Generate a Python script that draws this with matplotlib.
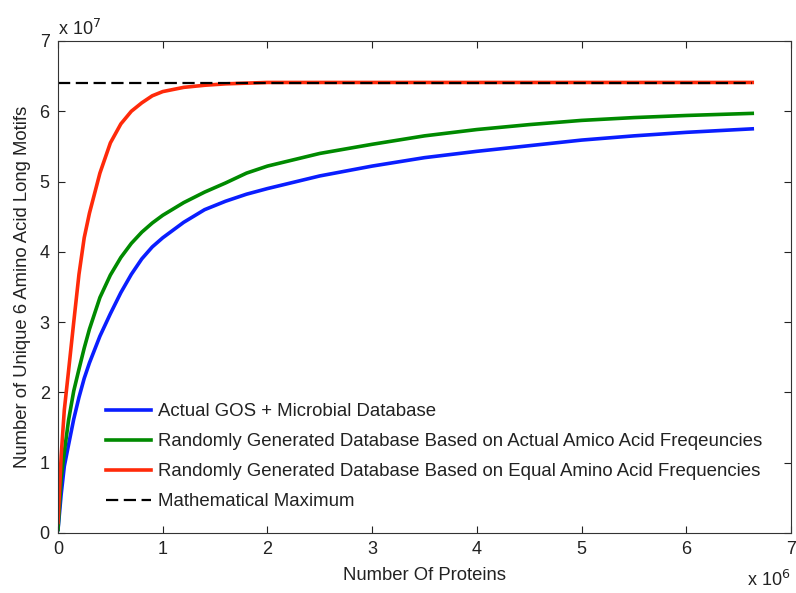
import matplotlib.pyplot as plt

plt.rcParams['font.family'] = ['Liberation Sans', 'DejaVu Sans']

# number of proteins (x 10^6)
proteins = [0, 0.03, 0.06, 0.1, 0.15, 0.2, 0.25, 0.3, 0.4, 0.5, 0.6, 0.7, 0.8, 0.9, 1.0,
            1.2, 1.4, 1.6, 1.8, 2.0, 2.5, 3.0, 3.5, 4.0, 4.5, 5.0, 5.5, 6.0, 6.63]

# unique 6 amino acid long motifs (x 10^7)
actual_gos = [0.05, 0.55, 0.95, 1.25, 1.62, 1.93, 2.2, 2.42, 2.8, 3.12, 3.42, 3.68, 3.9, 4.07, 4.2,
              4.42, 4.6, 4.72, 4.82, 4.9, 5.08, 5.22, 5.34, 5.43, 5.51, 5.59, 5.65, 5.7, 5.75]
random_actual = [0.05, 0.78, 1.15, 1.6, 2.02, 2.33, 2.63, 2.9, 3.35, 3.67, 3.92, 4.12, 4.28, 4.41, 4.52,
                 4.7, 4.85, 4.98, 5.12, 5.22, 5.4, 5.53, 5.65, 5.74, 5.81, 5.87, 5.91, 5.94, 5.97]
random_equal = [0.15, 1.1, 1.75, 2.3, 3.0, 3.68, 4.2, 4.55, 5.12, 5.55, 5.82, 6.0, 6.12, 6.22, 6.28,
                6.34, 6.37, 6.39, 6.40, 6.41, 6.41, 6.41, 6.41, 6.41, 6.41, 6.41, 6.41, 6.41, 6.41]
max_x = [0, 6.63]
max_y = [6.4, 6.4]

labels = ['Actual GOS + Microbial Database',
          'Randomly Generated Database Based on Actual Amico Acid Freqeuncies',
          'Randomly Generated Database Based on Equal Amino Acid Frequencies',
          'Mathematical Maximum']

fig = plt.figure(figsize=(7.96, 5.93), dpi=100)
ax = fig.add_axes([0.0729, 0.1012, 0.9208, 0.8297])

ax.plot(proteins, actual_gos, color='#0a1eff', lw=2.6, label=labels[0])
ax.plot(proteins, random_actual, color='#008a00', lw=2.6, label=labels[1])
ax.plot(proteins, random_equal, color='#ff2a0a', lw=2.6, label=labels[2])
ax.plot(max_x, max_y, color='black', lw=1.6, dashes=(5.5, 2.5), label=labels[3])

ax.set_xlim(0, 7)
ax.set_ylim(0, 7)
ax.set_xticks(range(8))
ax.set_yticks(range(8))
ax.tick_params(direction='in', length=5, top=True, right=True, labelsize=13,
               colors='#222222', pad=6)
for s in ax.spines.values():
    s.set_color('#333333')

ax.set_xlabel('Number Of Proteins', fontsize=13.3, color='#222222', labelpad=6)
ax.set_ylabel('Number of Unique 6 Amino Acid Long Motifs', fontsize=13.3, color='#222222',
              labelpad=6)
ax.text(0.0, 1.005, r'x 10$^{7}$', transform=ax.transAxes, fontsize=13, color='#222222', va='bottom')
ax.text(0.999, -0.075, r'x 10$^{6}$', transform=ax.transAxes, fontsize=13, color='#222222',
        va='top', ha='right')

ax.legend(loc='upper left', bbox_to_anchor=(0.065, 0.264), frameon=False, fontsize=13.4,
          handlelength=2.42, handletextpad=0.38, labelspacing=0.7, borderpad=0,
          borderaxespad=0, labelcolor='#222222')

fig.savefig('out.png', dpi=100)
